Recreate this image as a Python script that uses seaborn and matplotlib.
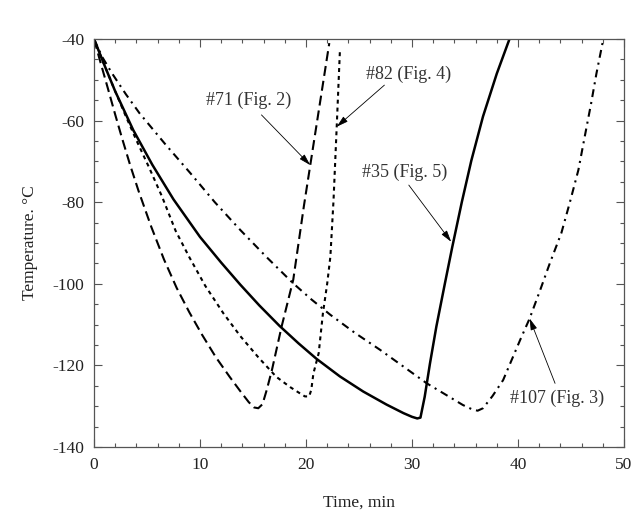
import matplotlib
matplotlib.use("Agg")
import matplotlib.pyplot as plt
import seaborn as sns
import pandas as pd
from matplotlib.ticker import MultipleLocator

# ---- data ----
t71 = [0, 0.6, 1.3, 2.0, 2.6, 3.4, 4.2, 5.4, 6.6, 7.8, 9.0, 10.2, 11.5, 12.8, 13.8, 14.6,
       15.1, 15.5, 15.9, 16.3, 16.8, 17.7, 18.8, 19.8, 20.4, 21.3, 22.2]
T71 = [-40, -45.6, -52, -58.5, -63.9, -70.8, -77.2, -86, -94, -101, -107, -112.5, -118, -122.8,
       -126.3, -129, -130.3, -130.5, -129.5, -126, -121, -110.5, -99, -81, -71, -56, -41]

t82 = [0, 1.0, 2.0, 3.0, 4.0, 5.2, 6.4, 7.7, 9.0, 10.5, 12.2, 13.8, 15.5, 17.2, 18.5, 19.4,
       19.9, 20.3, 20.5, 20.7, 21.2, 21.6, 22.0, 22.3, 22.6, 22.9, 23.2]
T82 = [-40, -46.5, -52.8, -58.9, -64.8, -71.5, -78.5, -87, -93.5, -100.5, -107.2, -112.8, -118,
       -122.8, -125.3, -126.8, -127.6, -127.6, -126, -122, -117, -107.2, -100, -93.4, -79.5,
       -61.5, -43]

t35 = [0, 1.0, 2.0, 3.7, 5.5, 7.5, 10.0, 12.0, 13.8, 15.6, 17.5, 19.3, 21.0, 23.2, 25.4, 27.6,
       29.2, 30.0, 30.5, 30.8, 31.2, 31.7, 32.3, 33.1, 33.8, 34.7, 35.6, 36.7, 38.0, 39.2]
T35 = [-40, -46.5, -52.8, -62.3, -70.8, -79.3, -88.5, -94.8, -100.2, -105.3, -110.3, -114.6,
       -118.4, -122.7, -126.4, -129.6, -131.7, -132.6, -133, -132.8, -127.7, -119.5, -110.5,
       -100.0, -91.0, -80.0, -69.8, -59.0, -48.5, -40]

t107 = [0, 0.8, 1.7, 3.0, 4.3, 6.7, 9.1, 11.4, 13.8, 16.3, 18.8, 20.5, 22.3, 24.6, 27.0, 29.2,
        31.4, 33.2, 34.8, 35.7, 36.2, 36.7, 37.6, 38.6, 40.2, 41.1, 42.1, 43.0, 44.1, 44.9, 45.7,
        46.3, 46.9, 47.4, 48.0]
T107 = [-40, -44.5, -48.4, -53.5, -58.2, -65.7, -72.9, -80, -86.8, -93.5, -99.9, -103.8, -107.6,
        -112, -116.2, -120.3, -124.4, -127.2, -129.7, -130.8, -131.1, -130.5, -127.5, -123.6,
        -113.8, -108.5, -101.5, -95, -87.5, -80.0, -72.1, -63.9, -55.8, -48.5, -40.7]

labels = ["#71 (Fig. 2)", "#82 (Fig. 4)", "#35 (Fig. 5)", "#107 (Fig. 3)"]
label_pos = [(14.6, -55.0), (29.7, -48.6), (29.3, -72.7), (43.7, -128.1)]
arrow_tip = [(20.4, -70.9), (22.9, -61.5), (33.7, -89.7), (41.1, -108.5)]
arrow_start = [(15.8, -58.6), (27.4, -51.3), (29.7, -75.8), (43.5, -124.4)]

# ---- plot ----
sns.set_style("ticks")
plt.rcParams["font.family"] = ["Liberation Serif", "DejaVu Serif"]
plt.rcParams["axes.unicode_minus"] = False

fig = plt.figure(figsize=(6.38, 5.30), dpi=100)
ax = fig.add_axes([0.1473, 0.1566, 0.8307, 0.7698])

series = [
    (t71, T71, 1.5, (0, (4.8, 2.4))),
    (t82, T82, 1.5, (0, (1.9, 1.9))),
    (t35, T35, 1.8, "-"),
    (t107, T107, 1.5, (0, (3.8, 2.4, 1.0, 2.4))),
]
for t, T, lw, ls in series:
    df = pd.DataFrame({"t": t, "T": T})
    sns.lineplot(data=df, x="t", y="T", ax=ax, color="black", lw=lw,
                 estimator=None, sort=False, linestyle=ls)

for lab, pos, tip, st in zip(labels, label_pos, arrow_tip, arrow_start):
    ax.text(pos[0], pos[1], lab, ha="center", va="center", fontsize=13, color="#333333")
    ax.annotate("", xy=tip, xytext=st,
                arrowprops=dict(arrowstyle="-|>,head_length=0.7,head_width=0.2",
                                color="black", lw=0.6, shrinkA=0, shrinkB=0))

ax.set_xlim(0, 50)
ax.set_ylim(-140, -40)
ax.xaxis.set_major_locator(MultipleLocator(10))
ax.xaxis.set_minor_locator(MultipleLocator(2))
ax.yaxis.set_major_locator(MultipleLocator(20))
ax.yaxis.set_minor_locator(MultipleLocator(5))
ax.tick_params(which="both", direction="in", top=True, right=True, colors="#555555",
               labelcolor="#222222", labelsize=12.5, width=0.8)
ax.tick_params(which="major", length=6, pad=7)
ax.tick_params(which="minor", length=3)
for s in ax.spines.values():
    s.set_color("#555555")
    s.set_linewidth(0.9)

ax.set_xlabel("Time, min", fontsize=12.5, color="#222222", labelpad=16)
ax.set_ylabel("Temperature. °C", fontsize=12.5, color="#222222", labelpad=10)

fig.savefig("out.png", dpi=100)
